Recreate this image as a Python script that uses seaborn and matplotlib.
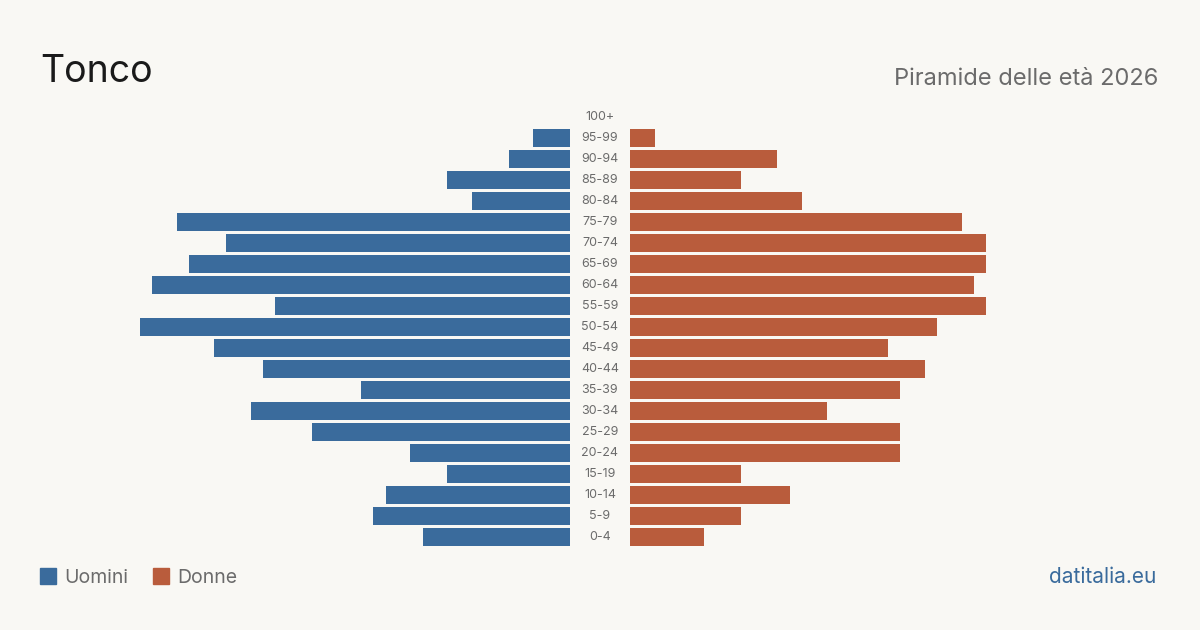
import matplotlib
matplotlib.use("Agg")
import matplotlib.pyplot as plt
import matplotlib.transforms as mtransforms
from matplotlib.patches import Rectangle
import pandas as pd
import seaborn as sns

# data, top row first
age_groups = ["100+", "95-99", "90-94", "85-89", "80-84", "75-79", "70-74",
              "65-69", "60-64", "55-59", "50-54", "45-49", "40-44", "35-39",
              "30-34", "25-29", "20-24", "15-19", "10-14", "5-9", "0-4"]
men = [0, 3, 5, 10, 8, 32, 28, 31, 34, 24, 35, 29, 25, 17, 26, 21, 13, 10, 15, 16, 12]
women = [0, 2, 12, 9, 14, 27, 29, 29, 28, 29, 25, 21, 24, 22, 16, 22, 22, 9, 13, 9, 6]

title = "Tonco"
subtitle = "Piramide delle età 2026"
source = "datitalia.eu"

BG = "#F9F8F4"
BLUE = "#3A6B9C"
ORANGE = "#B95C3C"
GREY = "#6B6B6B"

sns.set_style("white")
plt.rcParams["font.family"] = ["Inter", "DejaVu Sans"]

df = pd.DataFrame({"age": age_groups, "men": men, "women": women})
xmax = max(max(men), max(women))

fig = plt.figure(figsize=(12, 6.3), dpi=100)
fig.patch.set_facecolor(BG)

# axes in pixel terms: left 140..570, right 630..1060, rows 106.5..547.5
ax_l = fig.add_axes([140 / 1200, 1 - 547.5 / 630, 430 / 1200, 441 / 630])
ax_r = fig.add_axes([630 / 1200, 1 - 547.5 / 630, 430 / 1200, 441 / 630])

sns.barplot(data=df, x="men", y="age", order=age_groups, orient="h",
            color=BLUE, width=0.81, saturation=1, linewidth=0, ax=ax_l)
sns.barplot(data=df, x="women", y="age", order=age_groups, orient="h",
            color=ORANGE, width=0.81, saturation=1, linewidth=0, ax=ax_r)

for ax in (ax_l, ax_r):
    ax.set_facecolor("none")
    ax.set_xlim(0, xmax)
    ax.set_ylim(len(age_groups) - 0.5, -0.5)
    ax.set_xlabel("")
    ax.set_ylabel("")
    ax.set_xticks([])
    ax.set_yticks([])
    for s in ax.spines.values():
        s.set_visible(False)
ax_l.invert_xaxis()

# age labels centred in the gap
trans = mtransforms.blended_transform_factory(ax_r.transAxes, ax_r.transData)
for i, lab in enumerate(age_groups):
    ax_r.text(-30 / 430, i, lab, transform=trans, ha="center", va="center",
              fontsize=9, color=GREY)

fig.text(40 / 1200, 1 - 82 / 630, title, fontsize=27, color="#1A1A1A",
         ha="left", va="baseline")
fig.text(1158 / 1200, 1 - 85 / 630, subtitle, fontsize=17, color=GREY,
         ha="right", va="baseline")
fig.text(1156 / 1200, 1 - 583 / 630, source, fontsize=15, color=BLUE,
         ha="right", va="baseline")

# legend
for x0, lab, col in [(40, "Uomini", BLUE), (153, "Donne", ORANGE)]:
    fig.patches.append(Rectangle((x0 / 1200, 1 - 584 / 630), 16 / 1200, 16 / 630,
                                 transform=fig.transFigure, color=col))
    fig.text((x0 + 24) / 1200, 1 - 583 / 630, lab, fontsize=14, color=GREY,
             ha="left", va="baseline")

fig.savefig("out.png", dpi=100, facecolor=BG)
